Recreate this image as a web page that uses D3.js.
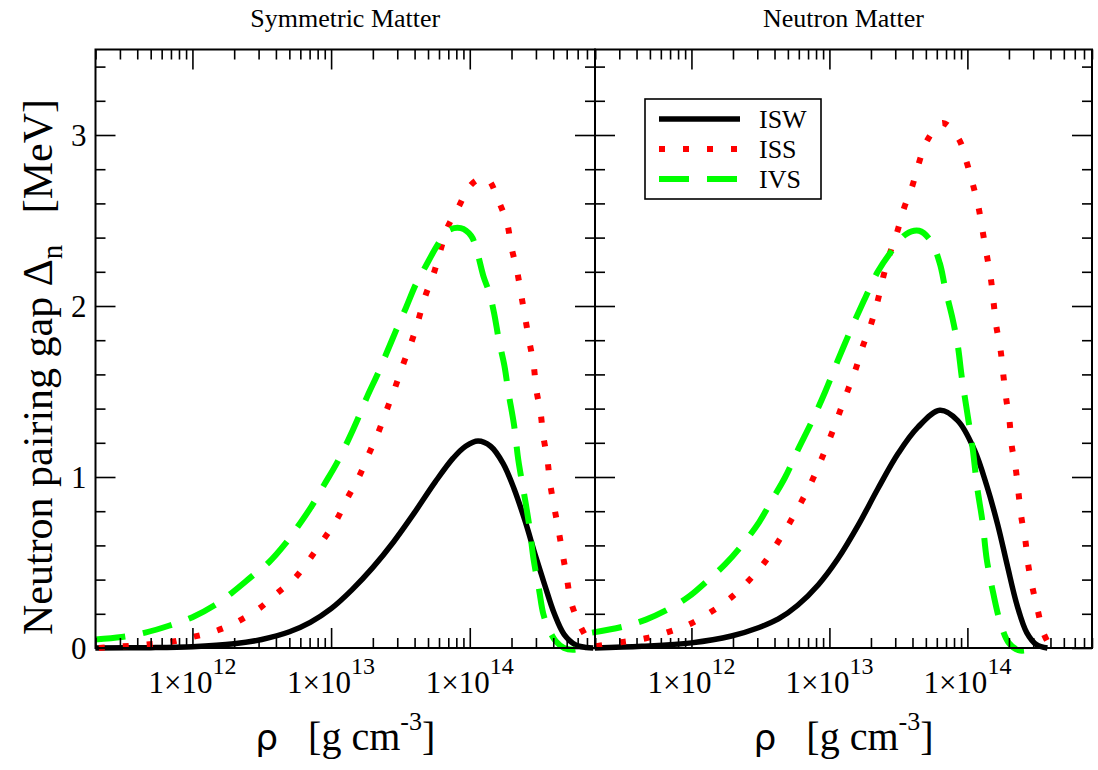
<!DOCTYPE html>
<html>
<head>
<meta charset="utf-8">
<script src="https://cdn.jsdelivr.net/npm/d3@7"></script>
<style>
  html, body { margin: 0; padding: 0; background: #fff; }
  svg { display: block; font-family: "Liberation Serif", "Times New Roman", serif; }
  text { white-space: pre; }
</style>
</head>
<body>
<svg id="chart" width="1098" height="770"></svg>
<script>
// Neutron pairing gap vs. density: log10(rho [g cm^-3]) and gap [MeV]

// ---- Symmetric matter ----
const symISW_logRho = [11.30, 11.70, 12.00, 12.30, 12.50, 12.70, 12.85, 13.00, 13.15, 13.30, 13.45, 13.60, 13.75, 13.88, 13.97, 14.06, 14.15, 14.24, 14.32, 14.40, 14.47, 14.54, 14.61, 14.68, 14.76, 14.84, 14.89];
const symISW_gap    = [0.0, 0.002, 0.008, 0.025, 0.05, 0.095, 0.15, 0.23, 0.34, 0.47, 0.62, 0.79, 0.97, 1.11, 1.18, 1.21, 1.18, 1.08, 0.93, 0.74, 0.55, 0.37, 0.20, 0.08, 0.02, 0.003, 0.0];

const symISS_logRho = [11.325, 11.50, 11.67, 11.84, 12.00, 12.17, 12.33, 12.48, 12.61, 12.74, 12.845, 12.95, 13.04, 13.12, 13.20, 13.27, 13.34, 13.40, 13.46, 13.52, 13.58, 13.63, 13.68, 13.74, 13.79, 13.84, 13.92, 13.99, 14.06, 14.13, 14.21, 14.27, 14.30, 14.34, 14.37, 14.40, 14.43, 14.46, 14.48, 14.51, 14.53, 14.56, 14.58, 14.61, 14.64, 14.67, 14.70, 14.73, 14.79, 14.87];
const symISS_gap    = [0.0, 0.01, 0.02, 0.035, 0.064, 0.10, 0.156, 0.23, 0.32, 0.41, 0.52, 0.64, 0.75, 0.88, 1.00, 1.13, 1.26, 1.39, 1.52, 1.66, 1.79, 1.92, 2.06, 2.19, 2.33, 2.46, 2.58, 2.69, 2.74, 2.74, 2.61, 2.48, 2.345, 2.21, 2.07, 1.93, 1.79, 1.66, 1.51, 1.38, 1.24, 1.10, 0.96, 0.82, 0.69, 0.55, 0.41, 0.27, 0.14, 0.02];

const symIVS_logRho = [11.30, 11.49, 11.66, 11.83, 12.00, 12.16, 12.28, 12.43, 12.55, 12.67, 12.76, 12.86, 12.95, 13.04, 13.12, 13.19, 13.26, 13.34, 13.40, 13.47, 13.54, 13.61, 13.68, 13.77, 13.84, 13.935, 14.01, 14.055, 14.10, 14.14, 14.175, 14.21, 14.25, 14.28, 14.32, 14.35, 14.39, 14.43, 14.46, 14.50, 14.53, 14.57, 14.62, 14.68, 14.75, 14.80];
const symIVS_gap    = [0.05, 0.064, 0.09, 0.13, 0.18, 0.25, 0.32, 0.42, 0.50, 0.61, 0.71, 0.83, 0.955, 1.08, 1.21, 1.335, 1.47, 1.61, 1.725, 1.86, 1.99, 2.125, 2.23, 2.36, 2.44, 2.455, 2.41, 2.31, 2.17, 2.08, 1.96, 1.80, 1.65, 1.49, 1.30, 1.10, 0.91, 0.71, 0.52, 0.34, 0.20, 0.11, 0.04, 0.0, -0.01, 0.0];

// ---- Neutron matter ----
const neuISW_logRho = [11.30, 11.64, 12.00, 12.29, 12.49, 12.63, 12.77, 12.92, 13.06, 13.21, 13.35, 13.50, 13.64, 13.80, 13.93, 14.05, 14.14, 14.22, 14.29, 14.36, 14.43, 14.50, 14.58];
const neuISW_gap    = [0.0, 0.01, 0.03, 0.07, 0.12, 0.17, 0.25, 0.37, 0.52, 0.72, 0.93, 1.14, 1.29, 1.39, 1.33, 1.16, 0.95, 0.72, 0.48, 0.25, 0.09, 0.02, 0.0];

const neuISS_logRho = [11.31, 11.49, 11.67, 11.83, 11.99, 12.14, 12.28, 12.41, 12.52, 12.62, 12.71, 12.80, 12.875, 12.94, 13.01, 13.07, 13.13, 13.19, 13.24, 13.30, 13.35, 13.39, 13.435, 13.49, 13.54, 13.60, 13.65, 13.71, 13.82, 13.935, 13.995, 14.04, 14.08, 14.11, 14.14, 14.17, 14.19, 14.21, 14.24, 14.26, 14.28, 14.305, 14.32, 14.35, 14.37, 14.39, 14.42, 14.44, 14.47, 14.51, 14.55, 14.60];
const neuISS_gap    = [0.01, 0.034, 0.057, 0.093, 0.14, 0.21, 0.29, 0.39, 0.49, 0.61, 0.73, 0.86, 0.98, 1.10, 1.24, 1.37, 1.50, 1.63, 1.76, 1.89, 2.03, 2.17, 2.30, 2.43, 2.57, 2.70, 2.84, 2.97, 3.07, 2.98, 2.84, 2.71, 2.58, 2.44, 2.30, 2.16, 2.02, 1.88, 1.745, 1.60, 1.465, 1.33, 1.19, 1.05, 0.91, 0.77, 0.63, 0.49, 0.36, 0.22, 0.09, 0.01];

const neuIVS_logRho = [11.28, 11.50, 11.67, 11.84, 11.98, 12.125, 12.245, 12.365, 12.49, 12.58, 12.68, 12.77, 12.87, 12.97, 13.06, 13.16, 13.255, 13.35, 13.45, 13.555, 13.65, 13.735, 13.80, 13.84, 13.89, 13.93, 13.96, 14.00, 14.04, 14.07, 14.11, 14.14, 14.19, 14.24, 14.30, 14.37, 14.43, 14.48];
const neuIVS_gap    = [0.09, 0.124, 0.166, 0.23, 0.30, 0.40, 0.49, 0.60, 0.735, 0.86, 1.00, 1.156, 1.32, 1.50, 1.68, 1.87, 2.04, 2.20, 2.32, 2.42, 2.44, 2.38, 2.25, 2.10, 1.935, 1.77, 1.58, 1.37, 1.156, 0.945, 0.735, 0.52, 0.31, 0.145, 0.03, -0.013, -0.013, 0.0];

// axis settings
const rhoDomain = [2e11, 8e14];
const gapDomain = [0, 3.5];
const xMajorTicks = [1e12, 1e13, 1e14];
const xTickExponents = ["12", "13", "14"];
const yMajorTicks = [0, 1, 2, 3];
const yMinorTicks = [0.2, 0.4, 0.6, 0.8, 1.2, 1.4, 1.6, 1.8, 2.2, 2.4, 2.6, 2.8, 3.2, 3.4];
const seriesNames = ["ISW", "ISS", "IVS"];
const panelTitles = ["Symmetric Matter", "Neutron Matter"];

const styles = {
  ISW: { color: "#000000", width: 5.5, dash: null },
  ISS: { color: "#ff0000", width: 6, dash: "6,18" },
  IVS: { color: "#00ff00", width: 6, dash: "30,18" }
};

const svg = d3.select("#chart");
const plotTop = 49.5, plotBottom = 648;

const panels = [
  { x0: 95.5, x1: 595, title: panelTitles[0], yLabels: true,
    data: { ISW: [symISW_logRho, symISW_gap], ISS: [symISS_logRho, symISS_gap], IVS: [symIVS_logRho, symIVS_gap] } },
  { x0: 595, x1: 1092, title: panelTitles[1], yLabels: false,
    data: { ISW: [neuISW_logRho, neuISW_gap], ISS: [neuISS_logRho, neuISS_gap], IVS: [neuIVS_logRho, neuIVS_gap] } }
];

const y = d3.scaleLinear().domain(gapDomain).range([plotBottom, plotTop]);

// minor log ticks 2..9 x 10^k inside the domain
const xMinorTicks = [];
for (let k = 11; k <= 14; k++) {
  for (let m = 2; m <= 9; m++) {
    const v = m * Math.pow(10, k);
    if (v >= rhoDomain[0] && v <= rhoDomain[1]) xMinorTicks.push(v);
  }
}

panels.forEach((p, pi) => {
  const x = d3.scaleLog().domain(rhoDomain).range([p.x0, p.x1]);
  const g = svg.append("g");

  // curves
  const line = d3.line()
    .x(d => x(Math.pow(10, d[0])))
    .y(d => y(d[1]))
    .curve(d3.curveCatmullRom.alpha(0.5));

  seriesNames.forEach(name => {
    const [lr, gp] = p.data[name];
    const pts = lr.map((v, i) => [v, gp[i]]);
    const st = styles[name];
    g.append("path")
      .datum(pts)
      .attr("d", line)
      .attr("fill", "none")
      .attr("stroke", st.color)
      .attr("stroke-width", st.width)
      .attr("stroke-dasharray", st.dash)
      .attr("stroke-linecap", "butt")
      .attr("stroke-linejoin", "round");
  });

  // inward ticks on all four sides
  const tickStyle = sel => {
    sel.select(".domain").remove();
    sel.selectAll(".tick line").attr("stroke", "#000").attr("stroke-width", 1.6);
    sel.selectAll(".tick text").remove();
  };
  g.append("g").attr("transform", `translate(0,${plotBottom})`)
    .call(d3.axisBottom(x).tickValues(xMajorTicks).tickSize(-20).tickFormat(""))
    .call(tickStyle);
  g.append("g").attr("transform", `translate(0,${plotBottom})`)
    .call(d3.axisBottom(x).tickValues(xMinorTicks).tickSize(-10).tickFormat(""))
    .call(tickStyle);
  g.append("g").attr("transform", `translate(0,${plotTop})`)
    .call(d3.axisTop(x).tickValues(xMajorTicks).tickSize(-20).tickFormat(""))
    .call(tickStyle);
  g.append("g").attr("transform", `translate(0,${plotTop})`)
    .call(d3.axisTop(x).tickValues(xMinorTicks).tickSize(-10).tickFormat(""))
    .call(tickStyle);
  g.append("g").attr("transform", `translate(${p.x0},0)`)
    .call(d3.axisLeft(y).tickValues(yMajorTicks).tickSize(-20).tickFormat(""))
    .call(tickStyle);
  g.append("g").attr("transform", `translate(${p.x0},0)`)
    .call(d3.axisLeft(y).tickValues(yMinorTicks).tickSize(-10).tickFormat(""))
    .call(tickStyle);
  g.append("g").attr("transform", `translate(${p.x1},0)`)
    .call(d3.axisRight(y).tickValues(yMajorTicks).tickSize(-20).tickFormat(""))
    .call(tickStyle);
  g.append("g").attr("transform", `translate(${p.x1},0)`)
    .call(d3.axisRight(y).tickValues(yMinorTicks).tickSize(-10).tickFormat(""))
    .call(tickStyle);

  // frame
  g.append("rect")
    .attr("x", p.x0).attr("y", plotTop)
    .attr("width", p.x1 - p.x0).attr("height", plotBottom - plotTop)
    .attr("fill", "none").attr("stroke", "#000").attr("stroke-width", 2);

  // x tick labels 1x10^k
  xMajorTicks.forEach((v, i) => {
    const t = g.append("text")
      .attr("x", x(v)).attr("y", 693)
      .attr("text-anchor", "middle")
      .attr("font-size", 31);
    t.append("tspan").text("1\u00d710");
    t.append("tspan").attr("dy", -19).attr("font-size", 24).text(xTickExponents[i]);
  });

  // y tick labels
  if (p.yLabels) {
    yMajorTicks.forEach(v => {
      g.append("text")
        .attr("x", p.x0 - 9).attr("y", y(v) + 11)
        .attr("text-anchor", "end")
        .attr("font-size", 31)
        .text(String(v));
    });
  }

  // x axis title
  const xt = g.append("text")
    .attr("x", (p.x0 + p.x1) / 2).attr("y", 750)
    .attr("text-anchor", "middle")
    .attr("font-size", 40);
  xt.append("tspan").attr("font-family", "DejaVu Sans").attr("font-size", 36).text("\u03c1");
  xt.append("tspan").text("   [g cm");
  xt.append("tspan").attr("dy", -20).attr("font-size", 26).text("-3");
  xt.append("tspan").attr("dy", 20).text("]");

  // panel title
  g.append("text")
    .attr("x", (p.x0 + p.x1) / 2).attr("y", 27)
    .attr("text-anchor", "middle")
    .attr("font-size", 26)
    .text(p.title);
});

// y axis title
const yt = svg.append("text")
  .attr("transform", "translate(52,367) rotate(-90)")
  .attr("text-anchor", "middle")
  .attr("font-size", 42);
yt.append("tspan").text("Neutron pairing gap \u0394");
yt.append("tspan").attr("dy", 10).attr("font-size", 29).text("n");
yt.append("tspan").attr("dy", -10).text("   [MeV]");

// legend
const legend = svg.append("g");
legend.append("rect")
  .attr("x", 645).attr("y", 99).attr("width", 176).attr("height", 100)
  .attr("fill", "#fff").attr("stroke", "#000").attr("stroke-width", 1.6);
const legendRows = [119, 149, 179];
seriesNames.forEach((name, i) => {
  const st = styles[name];
  legend.append("line")
    .attr("x1", 659).attr("x2", 740)
    .attr("y1", legendRows[i]).attr("y2", legendRows[i])
    .attr("stroke", st.color).attr("stroke-width", st.width)
    .attr("stroke-dasharray", st.dash);
  legend.append("text")
    .attr("x", 759).attr("y", legendRows[i] + 9)
    .attr("font-size", 26)
    .text(name);
});
</script>
</body>
</html>
